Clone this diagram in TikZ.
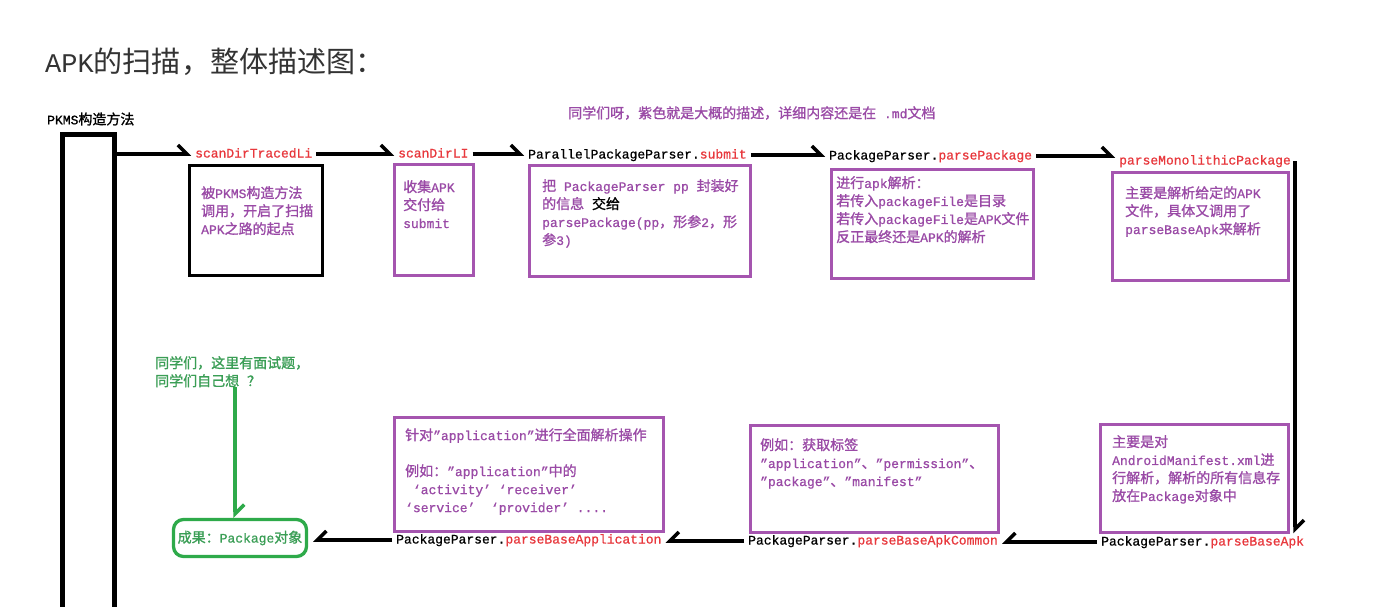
\documentclass[tikz,border=0pt]{standalone}
\usepackage{fontspec}
\setmainfont{Liberation Mono}[RawFeature={embolden=0.8}]
\newfontfamily\cjk[Scale=1.077, RawFeature={embolden=1.2}]{Noto Sans CJK SC}
\newfontfamily\cjkthin[Scale=1.077]{Noto Sans CJK SC}
\newfontfamily\monothin{Liberation Mono}
\newcommand\zh[1]{{\cjk #1}}
\usetikzlibrary{arrows.meta}
\definecolor{pboxc}{HTML}{A555AF}
\definecolor{ptext}{HTML}{9A4AA6}
\definecolor{redc}{HTML}{E8383D}
\definecolor{greenc}{HTML}{2EAA4A}
\definecolor{greent}{HTML}{3A9E55}
\definecolor{titlec}{HTML}{333333}
\newcommand\rd[1]{\textcolor{redc}{#1}}
\begin{document}
\begin{tikzpicture}[x=1pt,y=-1pt,
  lbl/.style={anchor=west, inner xsep=4pt, inner ysep=2pt, text height=10pt, text depth=3pt, font=\fontsize{13}{16}\selectfont},
  pbox/.style={draw=pboxc, line width=3.3pt, inner sep=0pt, anchor=north west},
  kbox/.style={draw=black, line width=3pt, inner sep=0pt, anchor=north west},
  txt/.style={anchor=north west, inner sep=0pt, align=left, text=ptext, font=\fontsize{13}{18}\selectfont, execute at begin node={\rule{0pt}{12.6pt}}},
  arr/.style={line width=3.5pt, -{Straight Barb[harpoon, length=9pt, width=18pt]}},
  arrsw/.style={line width=3.5pt, -{Straight Barb[harpoon, swap, length=9pt, width=18pt]}},
]
\path[fill=white] (0,0) rectangle (1391,607);
\useasboundingbox (0,0) rectangle (1391,607);

\node[anchor=west, inner sep=0pt, text=titlec, font=\fontsize{27}{30}\selectfont] (title) at (45,62) {{\monothin APK}{\cjkthin 的扫描，整体描述图：}};

\node[anchor=west, inner sep=0pt, font=\fontsize{13}{16}\selectfont] (pkmslbl) at (47,119) {PKMS\zh{构造方法}};
\node[draw, line width=5pt, minimum width=52pt, minimum height=520pt, inner sep=0pt, anchor=north] (pkms) at (88.5,132) {};

\node[anchor=west, inner sep=0pt, text=ptext, font=\fontsize{13}{16}\selectfont] (note) at (568,113) {\zh{同学们呀，紫色就是大概的描述，详细内容还是在} .md\zh{文档}};

% labels
\node[lbl, text=redc] (l1) at (191,154) {scanDirTracedLi};
\node[lbl, text=redc] (l2) at (394,154) {scanDirLI};
\node[lbl] (l3) at (524,155) {ParallelPackageParser.\rd{submit}};
\node[lbl] (l4) at (825,156) {PackageParser.\rd{parsePackage}};
\node[lbl, text=redc] (l5) at (1115,161) {parseMonolithicPackage};
\node[lbl] (l6) at (1097,542) {PackageParser.\rd{parseBaseApk}};
\node[lbl] (l7) at (744,541) {PackageParser.\rd{parseBaseApkCommon}};
\node[lbl] (l8) at (392,540) {PackageParser.\rd{parseBaseApplication}};

% boxes
\node[kbox, minimum width=133pt, minimum height=110pt] (b1) at (188,164) {};
\node[txt] (t1) at (201,186) {\zh{被}PKMS\zh{构造方法}\\\zh{调用，开启了扫描}\\APK\zh{之路的起点}};
\node[pbox, minimum width=79pt, minimum height=111pt] (b2) at (393,163) {};
\node[txt] (t2) at (403,180) {\zh{收集}APK\\\zh{交付给}\\submit};
\node[pbox, minimum width=221pt, minimum height=111pt] (b3) at (528,164) {};
\node[txt] (t3) at (542,179) {\zh{把} PackageParser pp \zh{封装好}\\\zh{的信息} \textcolor{black}{\zh{交给}}\\parsePackage(pp\zh{，形参}2\zh{，形}\\\zh{参}3)};
\node[pbox, minimum width=202pt, minimum height=109pt] (b4) at (830,168) {};
\node[txt] (t4) at (836,176) {\zh{进行}apk\zh{解析：}\\\zh{若传入}packageFile\zh{是目录}\\\zh{若传入}packageFile\zh{是}APK\zh{文件}\\\zh{反正最终还是}APK\zh{的解析}};
\node[pbox, minimum width=176pt, minimum height=108pt] (b5) at (1111,171) {};
\node[txt] (t5) at (1125,186) {\zh{主要是解析给定的}APK\\\zh{文件，具体又调用了}\\parseBaseApk\zh{来解析}};
\node[pbox, minimum width=188pt, minimum height=108pt] (b6) at (1099,423) {};
\node[txt] (t6) at (1112,435) {\zh{主要是对}\\AndroidManifest.xml\zh{进}\\\zh{行解析，解析的所有信息存}\\\zh{放在}Package\zh{对象中}};
\node[pbox, minimum width=248pt, minimum height=107pt] (b7) at (749,424) {};
\node[txt] (t7) at (760,438) {\zh{例如：获取标签}\\"application"\zh{、}"permission"\zh{、}\\"package"\zh{、}"manifest"};
\node[pbox, minimum width=269pt, minimum height=114pt] (b8) at (393,416) {};
\node[txt] (t8) at (405,428) {\zh{针对}"application"\zh{进行全面解析操作}\\[18pt]\zh{例如：}"application"\zh{中的}\\\ ‘activity’ ‘receiver’\\‘service’ \ ‘provider’ ....};

% green
\node[anchor=north west, inner sep=0pt, align=left, text=greent, font=\fontsize{13}{18}\selectfont, execute at begin node={\rule{0pt}{12.6pt}}] (q) at (155,356) {\zh{同学们，这里有面试题，}\\\zh{同学们自己想}~\zh{？}};
\node[draw=greenc, line width=3.3pt, rounded corners=10pt, minimum width=133pt, minimum height=37pt, inner sep=0pt, text=greent, font=\fontsize{13}{16}\selectfont] (res) at (240,538) {\zh{成果：}Package\zh{对象}};

% connectors
\draw[arr] (pkms.east |- l1.west) -- (l1.west);
\draw[arr] (l1.east) -- (l1.east -| l2.west);
\draw[arr] (l2.east) -- (l2.east -| l3.west);
\draw[arr] (l3.east) -- (l3.east -| l4.west);
\draw[arr] (l4.east) -- (l4.east -| l5.west);
\draw[arr] (l5.east) -- (l5.east |- l6.north);
\draw[arrsw] (l6.west) -- (l6.west -| l7.east);
\draw[arrsw] (l7.west) -- (l7.west -| l8.east);
\draw[arrsw] (l8.west) -- ([xshift=5pt]l8.west -| res.east);
\draw[arr, draw=greenc] ([xshift=3pt]q.south) -- ([xshift=3pt]q.south |- res.north);
\end{tikzpicture}
\end{document}
